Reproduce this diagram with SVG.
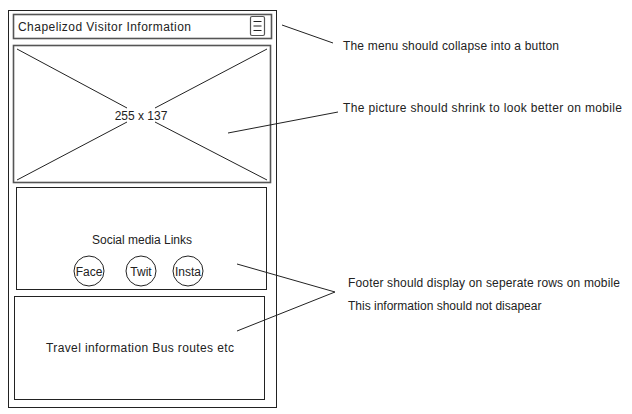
<svg xmlns="http://www.w3.org/2000/svg" width="632" height="414" viewBox="0 0 632 414">
<style>
text{font-family:"Liberation Sans",Arial,sans-serif;font-size:12px;fill:#222}
.box{fill:none;stroke:#222;stroke-width:1}
.gbox{fill:none;stroke:#555;stroke-width:1.6}
.ln{fill:none;stroke:#222;stroke-width:1}
.c{text-anchor:middle}
</style>
<rect width="632" height="414" fill="#fff"/>
<g id="frame"><rect class="box" x="8.5" y="10.5" width="268" height="397"/></g>
<g id="header">
<rect class="gbox" x="13.5" y="14.5" width="258" height="24"/>
<text x="18" y="30.5" textLength="173" lengthAdjust="spacing">Chapelizod Visitor Information</text>
<rect x="250.5" y="16.5" width="14" height="19" rx="1.5" fill="none" stroke="#555" stroke-width="1.2"/>
<path class="ln" d="M253.5 21.5h8M253.5 26h8M253.5 30.5h8" stroke="#555"/>
</g>
<g id="picture">
<rect class="gbox" x="13.5" y="45.5" width="257" height="137"/>
<path class="ln" d="M17 49L127 108M155 122L267 180M267 49L155 108M127 122L17 180"/>
<text class="c" x="141" y="119.5">255 x 137</text>
</g>
<g id="social">
<rect class="box" x="16.5" y="187.5" width="250" height="102"/>
<text class="c" x="142" y="244">Social media Links</text>
<circle class="box" cx="89" cy="271" r="15"/>
<text class="c" x="89" y="275.5">Face</text>
<circle class="box" cx="141" cy="271" r="15"/>
<text class="c" x="141" y="275.5">Twit</text>
<circle class="box" cx="188" cy="271" r="15"/>
<text class="c" x="188" y="275.5">Insta</text>
</g>
<g id="travel">
<rect class="box" x="14.5" y="296.5" width="250" height="103"/>
<text x="46" y="352" textLength="188" lengthAdjust="spacing">Travel information Bus routes etc</text>
</g>
<g id="connectors">
<path class="ln" d="M282 25L333 43"/>
<path class="ln" d="M228 133L338 112"/>
<path class="ln" d="M237 264L335 292L237 331"/>
</g>
<g id="notes">
<text x="343" y="50" textLength="216" lengthAdjust="spacing">The menu should collapse into a button</text>
<text x="343" y="112" textLength="279" lengthAdjust="spacing">The picture should shrink to look better on mobile</text>
<text x="348" y="287" textLength="272" lengthAdjust="spacing">Footer should display on seperate rows on mobile</text>
<text x="348" y="310">This information should not disapear</text>
</g>
</svg>
